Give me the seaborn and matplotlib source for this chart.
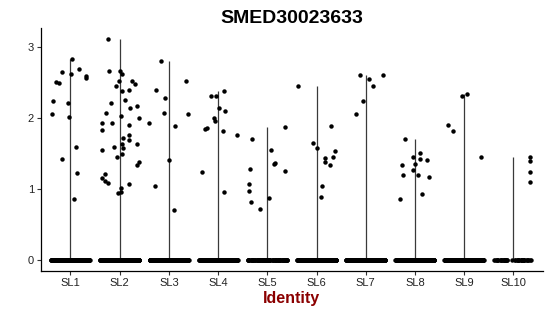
import numpy as np
import pandas as pd
import matplotlib
matplotlib.use("Agg")
import matplotlib.pyplot as plt
import seaborn as sns

clusters = ["SL1", "SL2", "SL3", "SL4", "SL5", "SL6", "SL7", "SL8", "SL9", "SL10"]

sl1 = [2.83, 2.68, 2.64, 2.62, 2.58, 2.56, 2.50, 2.49, 2.23, 2.20, 2.05, 2.01, 1.59, 1.42, 1.22, 0.86]
sl2 = [3.10, 2.66, 2.65, 2.61, 2.52, 2.51, 2.48, 2.44, 2.39, 2.38, 2.25, 2.21, 2.16, 2.14,
       2.07, 2.03, 2.00, 1.93, 1.92, 1.90, 1.82, 1.76, 1.72, 1.69, 1.63, 1.63, 1.58, 1.57,
       1.55, 1.49, 1.44, 1.38, 1.34, 1.21, 1.15, 1.11, 1.08, 1.06, 1.01, 0.95, 0.94]
sl3 = [2.79, 2.51, 2.39, 2.28, 2.07, 2.05, 1.93, 1.88, 1.40, 1.04, 0.70]
sl4 = [2.38, 2.31, 2.30, 2.13, 2.09, 1.99, 1.95, 1.86, 1.84, 1.81, 1.75, 1.24, 0.95]
sl5 = [1.87, 1.70, 1.55, 1.36, 1.35, 1.28, 1.25, 1.06, 0.97, 0.87, 0.81, 0.71]
sl6 = [2.45, 1.88, 1.64, 1.57, 1.53, 1.44, 1.43, 1.38, 1.34, 1.04, 0.89]
sl7 = [2.60, 2.60, 2.55, 2.45, 2.23, 2.05]
sl8 = [1.70, 1.50, 1.44, 1.42, 1.41, 1.35, 1.33, 1.27, 1.20, 1.19, 1.16, 0.93, 0.85]
sl9 = [2.33, 2.31, 1.90, 1.81, 1.44]
sl10 = [1.44, 1.39, 1.23, 1.10]
nonzero = [sl1, sl2, sl3, sl4, sl5, sl6, sl7, sl8, sl9, sl10]
zero_counts = [300, 300, 260, 220, 90, 260, 260, 220, 220, 45]

title = "SMED30023633"
xlabel = "Identity"
yticks = [0, 1, 2, 3]

rows = []
for c, vals, nz in zip(clusters, nonzero, zero_counts):
    for v in vals:
        rows.append((c, v))
    for _ in range(nz):
        rows.append((c, 0.0))
df = pd.DataFrame(rows, columns=["Identity", "expr"])

sns.set_style("white")
plt.rcParams["font.family"] = ["Liberation Sans", "DejaVu Sans"]

fig = plt.figure(figsize=(5.5, 3.16), dpi=100)
ax = fig.add_axes([0.0745, 0.143, 0.9125, 0.767])

# thin violins -> vertical lines from 0 to max per identity
maxes = df.groupby("Identity", sort=False)["expr"].max().reindex(clusters)
ax.vlines(np.arange(len(clusters)), 0, maxes.values, color="#3a3a3a", linewidth=0.9, zorder=1)

np.random.seed(3)
sns.stripplot(data=df, x="Identity", y="expr", order=clusters, jitter=0.4,
              color="black", size=3.2, linewidth=0, ax=ax, zorder=3)

ax.set_xlim(-0.6, len(clusters) - 0.4)
ax.set_ylim(-0.155, 3.255)
ax.set_yticks(yticks)
ax.set_yticklabels([str(t) for t in yticks])
ax.set_ylabel("")
ax.set_xlabel(xlabel, fontsize=11.5, fontweight="bold", color="#8B0000", labelpad=2)
ax.set_title(title, fontsize=14, fontweight="bold", pad=4, color="black")

for s in ["top", "right"]:
    ax.spines[s].set_visible(False)
for s in ["left", "bottom"]:
    ax.spines[s].set_color("black")
    ax.spines[s].set_linewidth(0.9)
ax.tick_params(axis="both", which="both", length=3, width=0.8, color="#333333",
               labelsize=8, labelcolor="#222222", pad=2, left=True, bottom=True)

fig.savefig("out.png", dpi=100)
